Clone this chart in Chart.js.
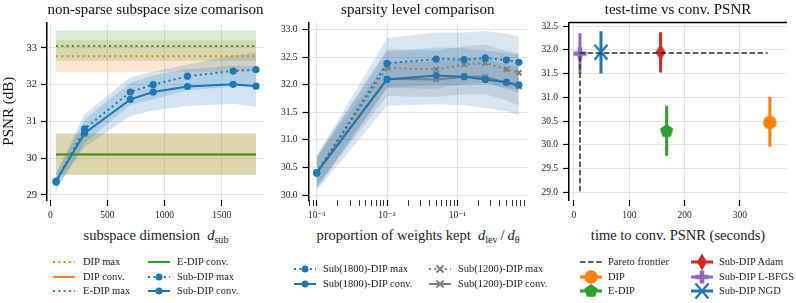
<!DOCTYPE html>
<html>
<head>
<meta charset="utf-8">
<script src="https://cdn.jsdelivr.net/npm/chart.js@4.4.1/dist/chart.umd.min.js"></script>
<style>
body { margin: 0; width: 796px; height: 303px; position: relative; overflow: hidden; background: #fff;
       font-family: "Liberation Serif", "DejaVu Serif", serif; color: #222; }
.xt { position: absolute; top: 235px; font-size: 14.5px; white-space: nowrap; transform: translate(-50%, -50%); }
.xt sub { font-size: 0.7em; vertical-align: -0.3em; line-height: 0; }
.lg { position: absolute; font-size: 10.5px; white-space: nowrap; transform: translateY(-50%); line-height: 1; }
</style>
</head>
<body>
<canvas id="c1" width="270" height="222" style="position:absolute;left:0;top:0"></canvas>
<canvas id="c2" width="261" height="222" style="position:absolute;left:272px;top:0"></canvas>
<canvas id="c3" width="262" height="222" style="position:absolute;left:533px;top:0"></canvas>
<div class="xt" style="left:156px">subspace dimension&nbsp; <i>d</i><sub>sub</sub></div>
<div class="xt" style="left:418px">proportion of weights kept&nbsp; <i>d</i><sub>lev</sub>&thinsp;/&thinsp;<i>d</i><sub>θ</sub></div>
<div class="xt" style="left:678px">time to conv. PSNR (seconds)</div>
<script>
// ---- panel 1: non-sparse subspace size
const subDims = [50, 300, 700, 900, 1200, 1600, 1800];
const subMax = [29.35, 30.80, 31.80, 32.00, 32.23, 32.37, 32.41];
const subMaxLo = [29.10, 30.42, 31.45, 31.60, 31.85, 31.95, 31.95];
const subMaxHi = [29.60, 31.20, 32.20, 32.35, 32.55, 32.80, 32.87];
const subConv = [29.38, 30.68, 31.60, 31.80, 31.95, 32.01, 31.96];
const subConvLo = [29.20, 30.30, 31.15, 31.30, 31.42, 31.48, 31.40];
const subConvHi = [29.55, 31.05, 32.05, 32.25, 32.42, 32.52, 32.50];
const refX = [50, 1800];
const dipMax = [32.77, 32.77], dipMaxLo = [32.35, 32.35], dipMaxHi = [33.20, 33.20];
const dipConv = [30.10, 30.10], dipConvLo = [29.55, 29.55], dipConvHi = [30.67, 30.67];
const edipMax = [33.05, 33.05], edipMaxLo = [32.65, 32.65], edipMaxHi = [33.48, 33.48];
const edipConv = [30.10, 30.10], edipConvLo = [29.55, 29.55], edipConvHi = [30.67, 30.67];
const ticks1X = [0, 500, 1000, 1500];
const ticks1Y = [29, 30, 31, 32, 33];
const legend1 = ['DIP max', 'DIP conv.', 'E-DIP max', 'E-DIP conv.', 'Sub-DIP max', 'Sub-DIP conv.'];

// ---- panel 2: sparsity level
const keepFrac = [0.001, 0.01, 0.05, 0.125, 0.25, 0.5, 0.75];
const s1800Max = [30.40, 32.39, 32.47, 32.46, 32.49, 32.45, 32.41];
const s1800MaxLo = [30.10, 31.95, 32.00, 32.00, 32.02, 31.95, 31.90];
const s1800MaxHi = [30.72, 32.85, 32.95, 32.95, 32.98, 32.93, 32.88];
const s1800Conv = [30.40, 32.10, 32.17, 32.15, 32.10, 32.05, 32.00];
const s1800ConvLo = [30.08, 31.62, 31.65, 31.63, 31.58, 31.52, 31.45];
const s1800ConvHi = [30.72, 32.60, 32.68, 32.67, 32.62, 32.58, 32.55];
const s1200Max = [30.42, 32.31, 32.28, 32.37, 32.40, 32.28, 32.22];
const s1200MaxLo = [30.15, 31.95, 31.93, 32.02, 32.05, 31.92, 31.85];
const s1200MaxHi = [30.68, 32.65, 32.62, 32.70, 32.73, 32.62, 32.57];
const s1200Conv = [30.42, 32.11, 32.10, 32.15, 32.15, 32.04, 31.97];
const s1200ConvLo = [30.15, 31.80, 31.78, 31.83, 31.83, 31.72, 31.62];
const s1200ConvHi = [30.68, 32.42, 32.42, 32.47, 32.47, 32.37, 32.32];
const logTickVals = [0.001, 0.01, 0.1];
const logTickLabels = ['10\u207B\u00B3', '10\u207B\u00B2', '10\u207B\u00B9'];
const ticks2Y = [30.0, 30.5, 31.0, 31.5, 32.0, 32.5, 33.0];
const legend2 = ['Sub(1800)-DIP max', 'Sub(1800)-DIP conv.', 'Sub(1200)-DIP max', 'Sub(1200)-DIP conv.'];

// ---- panel 3: test time vs conv. PSNR
const methods = ['DIP', 'E-DIP', 'Sub-DIP Adam', 'Sub-DIP L-BFGS', 'Sub-DIP NGD'];
const convTime = [354, 167.5, 156.5, 10.8, 48.8];
const convPsnr = [30.47, 30.29, 31.95, 31.92, 31.95];
const convLo = [29.96, 29.77, 31.52, 31.49, 31.50];
const convHi = [31.01, 30.82, 32.37, 32.35, 32.39];
const paretoX = [10.8, 10.8, 350];
const paretoY = [29.02, 31.93, 31.93];
const ticks3X = [0, 100, 200, 300];
const ticks3Y = [29.0, 29.5, 30.0, 30.5, 31.0, 31.5, 32.0, 32.5];

const C = { blue: '#1f77b4', orange: '#ff7f0e', green: '#2ca02c', red: '#d62728', purple: '#9467bd', gray: '#7f7f7f' };
function rgba(hex, a) {
    const n = parseInt(hex.slice(1), 16);
    return `rgba(${n >> 16},${(n >> 8) & 255},${n & 255},${a})`;
}
const markKinds = ['circle', 'pentagon', 'thinDiamond', 'plus', 'x'];
const markColors = [C.orange, C.green, C.red, C.purple, C.blue];
const DOT = [2, 3.3];
const GRID = '#e4e4e4';

Chart.defaults.font.family = '"Liberation Serif", "DejaVu Serif", serif';
Chart.defaults.color = '#222';
Chart.defaults.animation = false;

function drawMark(g, kind, x, y, color) {
    g.save();
    g.fillStyle = color; g.strokeStyle = color; g.setLineDash([]);
    g.beginPath();
    if (kind === 'circle') { g.arc(x, y, 6.8, 0, Math.PI * 2); g.fill(); }
    else if (kind === 'pentagon') {
        for (let i = 0; i < 5; i++) {
            const a = -Math.PI / 2 + i * Math.PI * 2 / 5;
            g.lineTo(x + 7 * Math.cos(a), y + 7 * Math.sin(a));
        }
        g.closePath(); g.fill();
    }
    else if (kind === 'thinDiamond') {
        g.moveTo(x, y - 8.5); g.lineTo(x + 5, y); g.lineTo(x, y + 8.5); g.lineTo(x - 5, y);
        g.closePath(); g.fill();
    }
    else if (kind === 'plus') {
        const a = 6.5, b = 2.3;
        g.moveTo(x - b, y - a); g.lineTo(x + b, y - a); g.lineTo(x + b, y - b); g.lineTo(x + a, y - b);
        g.lineTo(x + a, y + b); g.lineTo(x + b, y + b); g.lineTo(x + b, y + a); g.lineTo(x - b, y + a);
        g.lineTo(x - b, y + b); g.lineTo(x - a, y + b); g.lineTo(x - a, y - b); g.lineTo(x - b, y - b);
        g.closePath(); g.fill();
    }
    else if (kind === 'x') {
        g.lineWidth = 2.3;
        g.moveTo(x - 6.5, y - 7.5); g.lineTo(x + 6.5, y + 7.5);
        g.moveTo(x + 6.5, y - 7.5); g.lineTo(x - 6.5, y + 7.5); g.stroke();
    }
    else if (kind === 'dot') { g.arc(x, y, 3.5, 0, Math.PI * 2); g.fill(); }
    else if (kind === 'cross') {
        g.lineWidth = 2;
        g.moveTo(x - 3.5, y - 3.5); g.lineTo(x + 3.5, y + 3.5);
        g.moveTo(x + 3.5, y - 3.5); g.lineTo(x - 3.5, y + 3.5); g.stroke();
    }
    g.restore();
}
function markCanvas(kind, color) {
    const c = document.createElement('canvas');
    c.width = 20; c.height = 20;
    drawMark(c.getContext('2d'), kind, 10, 10, color);
    return c;
}

const pts = (xs, ys) => xs.map((x, i) => ({ x: x, y: ys[i] }));
function band(xs, lo, hi, color, ord) {
    return [
        { data: pts(xs, lo), borderWidth: 0, pointRadius: 0, fill: false, order: ord },
        { data: pts(xs, hi), borderWidth: 0, pointRadius: 0, fill: '-1', backgroundColor: color, order: ord }
    ];
}
function line(xs, ys, color, dash, ord, mark) {
    return {
        data: pts(xs, ys), borderColor: color, borderWidth: 2, borderDash: dash || [], fill: false, order: ord,
        pointRadius: mark ? 3.6 : 0, pointStyle: mark === 'cross' ? 'crossRot' : 'circle',
        pointBackgroundColor: color, pointBorderColor: color, pointBorderWidth: mark === 'cross' ? 2 : 0
    };
}
function fixed(vals) {
    return s => { s.ticks = vals.map(v => ({ value: v, major: true })); };
}
function xAxis(extra) {
    return Object.assign({
        type: 'linear', border: { display: false },
        grid: { color: GRID, tickColor: '#000', tickLength: 6, tickWidth: 1.2 },
        ticks: { font: { size: 9.5 }, padding: 4, maxRotation: 0, autoSkip: false, callback: v => String(v) },
        afterFit: s => { s.height = 22; }
    }, extra);
}
function yAxis(w, extra) {
    return Object.assign({
        type: 'linear', border: { color: '#000', width: 1.5 },
        grid: { color: GRID, tickColor: '#000', tickLength: 6, tickWidth: 1.2 },
        ticks: { font: { size: 9.5 }, padding: 5, autoSkip: false },
        afterFit: s => { s.width = w; }
    }, extra);
}
function plugins(title) {
    return {
        legend: { display: false }, tooltip: { enabled: false },
        title: { display: true, text: title, fullSize: false, color: '#111',
                 font: { size: 15, weight: 'normal' }, padding: { top: 1, bottom: 3.5 } }
    };
}

// ---------- chart 1
new Chart(document.getElementById('c1'), {
    type: 'line',
    data: { datasets: [
        ...band(refX, edipMaxLo, edipMaxHi, rgba(C.green, 0.2), 20),
        ...band(refX, dipMaxLo, dipMaxHi, rgba(C.orange, 0.2), 20),
        ...band(refX, dipConvLo, dipConvHi, rgba(C.orange, 0.2), 20),
        ...band(refX, edipConvLo, edipConvHi, rgba(C.green, 0.2), 20),
        ...band(subDims, subMaxLo, subMaxHi, rgba(C.blue, 0.2), 15),
        ...band(subDims, subConvLo, subConvHi, rgba(C.blue, 0.2), 15),
        line(refX, dipMax, C.orange, DOT, 10),
        line(refX, dipConv, C.orange, null, 10),
        line(refX, edipMax, C.green, DOT, 9),
        line(refX, edipConv, C.green, null, 9),
        line(subDims, subConv, C.blue, null, 2, 'dot'),
        line(subDims, subMax, C.blue, DOT, 1, 'dot')
    ] },
    options: {
        responsive: false,
        layout: { padding: { right: 6 } },
        plugins: plugins('non-sparse subspace size comarison'),
        scales: {
            x: xAxis({ min: -29, max: 1870, afterBuildTicks: fixed(ticks1X) }),
            y: yAxis(47, {
                min: 28.864, max: 33.69, afterBuildTicks: fixed(ticks1Y),
                ticks: { font: { size: 10.5 }, padding: 4, autoSkip: false },
                title: { display: true, text: 'PSNR (dB)', font: { size: 15 }, padding: { top: 0 }, color: '#111' }
            })
        }
    }
});

// ---------- chart 2
new Chart(document.getElementById('c2'), {
    type: 'line',
    data: { datasets: [
        ...band(keepFrac, s1800MaxLo, s1800MaxHi, rgba(C.blue, 0.18), 20),
        ...band(keepFrac, s1800ConvLo, s1800ConvHi, rgba(C.blue, 0.18), 20),
        ...band(keepFrac, s1200MaxLo, s1200MaxHi, rgba(C.gray, 0.2), 20),
        ...band(keepFrac, s1200ConvLo, s1200ConvHi, rgba(C.gray, 0.2), 20),
        line(keepFrac, s1200Conv, C.gray, null, 4, 'cross'),
        line(keepFrac, s1200Max, C.gray, DOT, 3, 'cross'),
        line(keepFrac, s1800Conv, C.blue, null, 2, 'dot'),
        line(keepFrac, s1800Max, C.blue, DOT, 1, 'dot')
    ] },
    options: {
        responsive: false,
        layout: { padding: { right: 6 } },
        plugins: plugins('sparsity level comparison'),
        scales: {
            x: xAxis({
                type: 'logarithmic', min: Math.pow(10, -3.117), max: Math.pow(10, -0.009),
                grid: { color: c => (c.tick && c.tick.major ? GRID : 'rgba(0,0,0,0)'), tickColor: '#000', tickLength: 6,
                        tickWidth: c => (c.tick && c.tick.major ? 1.2 : 0.8) },
                afterBuildTicks: s => {
                    const t = [];
                    [0.0001].concat(logTickVals).forEach(v => {
                        if (logTickVals.includes(v)) t.push({ value: v, major: true });
                        for (let m = 2; m <= 9; m++) t.push({ value: v * m, major: false });
                    });
                    s.ticks = t.filter(o => o.value >= s.min && o.value <= s.max);
                },
                ticks: { font: { size: 9.5 }, padding: 4, maxRotation: 0, autoSkip: false,
                         callback: (v) => { const k = logTickVals.indexOf(v); return k < 0 ? '' : logTickLabels[k]; } }
            }),
            y: yAxis(36.5, {
                min: 29.91, max: 33.133, afterBuildTicks: fixed(ticks2Y),
                ticks: { font: { size: 9.5 }, padding: 5, autoSkip: false, callback: v => v.toFixed(1) }
            })
        }
    }
});

// ---------- chart 3
const topSpine = {
    id: 'topSpine',
    afterDraw(c) {
        const a = c.chartArea, g = c.ctx;
        g.save(); g.strokeStyle = '#000'; g.lineWidth = 1.5;
        g.beginPath(); g.moveTo(a.left, a.top); g.lineTo(a.right, a.top); g.stroke(); g.restore();
    }
};
const ds3 = [];
ds3.push({ data: pts(paretoX, paretoY), borderColor: '#2b2b2b', borderWidth: 1.5, borderDash: [5.5, 2.6],
           pointRadius: 0, fill: false, order: 0 });
methods.forEach((m, i) => {
    ds3.push({ data: [{ x: convTime[i], y: convPsnr[i] }], showLine: false, order: 1,
               pointStyle: markCanvas(markKinds[i], markColors[i]), pointRadius: 7 });
    ds3.push({ data: [{ x: convTime[i], y: convLo[i] }, { x: convTime[i], y: convHi[i] }],
               borderColor: markColors[i], borderWidth: 3, pointRadius: 0, fill: false, order: 5 });
});
new Chart(document.getElementById('c3'), {
    type: 'line',
    data: { datasets: ds3 },
    options: {
        responsive: false,
        layout: { padding: { right: 8 } },
        plugins: plugins('test-time vs conv. PSNR'),
        scales: {
            x: xAxis({ min: -9, max: 385, afterBuildTicks: fixed(ticks3X) }),
            y: yAxis(36, {
                min: 28.838, max: 32.574, afterBuildTicks: fixed(ticks3Y),
                ticks: { font: { size: 9.5 }, padding: 5, autoSkip: false, callback: v => v.toFixed(1) }
            })
        }
    },
    plugins: [topSpine]
});

// ---------- legends (html text, canvas swatches)
function legendItem(x, tx, y, label, color, dash, lw, mark) {
    const c = document.createElement('canvas');
    c.width = 24; c.height = 18;
    c.style.cssText = `position:absolute;left:${x}px;top:${y - 9}px`;
    const g = c.getContext('2d');
    g.strokeStyle = color; g.lineWidth = lw; g.setLineDash(dash || []);
    g.beginPath(); g.moveTo(1, 9); g.lineTo(23, 9); g.stroke();
    if (mark) drawMark(g, mark, 12, 9, color);
    document.body.appendChild(c);
    const s = document.createElement('div');
    s.className = 'lg'; s.textContent = label;
    s.style.left = tx + 'px'; s.style.top = y + 'px';
    document.body.appendChild(s);
}
const rows3 = [262, 276.5, 291];
legendItem(52, 83, rows3[0], legend1[0], C.orange, DOT, 2);
legendItem(52, 83, rows3[1], legend1[1], C.orange, null, 2);
legendItem(52, 83, rows3[2], legend1[2], C.green, DOT, 2);
legendItem(147, 177, rows3[0], legend1[3], C.green, null, 2);
legendItem(147, 177, rows3[1], legend1[4], C.blue, DOT, 2, 'dot');
legendItem(147, 177, rows3[2], legend1[5], C.blue, null, 2, 'dot');

const rows2 = [269, 283.5];
legendItem(293, 323, rows2[0], legend2[0], C.blue, DOT, 2, 'dot');
legendItem(293, 323, rows2[1], legend2[1], C.blue, null, 2, 'dot');
legendItem(428, 458, rows2[0], legend2[2], C.gray, DOT, 2, 'cross');
legendItem(428, 458, rows2[1], legend2[3], C.gray, null, 2, 'cross');

legendItem(579, 608, rows3[0], 'Pareto frontier', '#2b2b2b', [5.5, 2.6], 1.5);
legendItem(579, 608, rows3[1], methods[0], markColors[0], null, 3, markKinds[0]);
legendItem(579, 608, rows3[2], methods[1], markColors[1], null, 3, markKinds[1]);
legendItem(690, 719, rows3[0], methods[2], markColors[2], null, 3, markKinds[2]);
legendItem(690, 719, rows3[1], methods[3], markColors[3], null, 3, markKinds[3]);
legendItem(690, 719, rows3[2], methods[4], markColors[4], null, 3, markKinds[4]);
</script>
</body>
</html>
